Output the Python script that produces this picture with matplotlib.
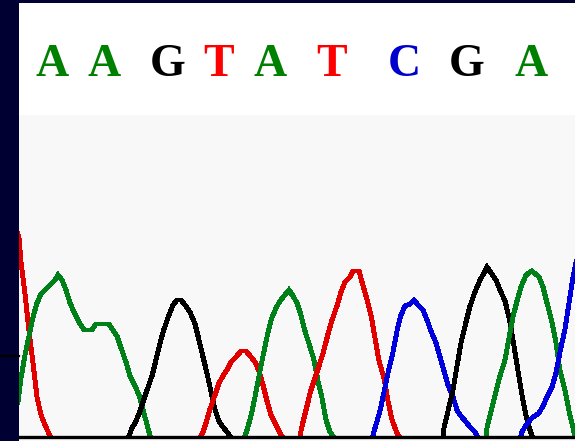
import matplotlib

matplotlib.use("Agg")

import matplotlib.pyplot as plt  # noqa: E402

# ── base calls ────────────────────────────────────────────────────────────────

bases = ["A", "A", "G", "T", "A", "T", "C", "G", "A"]
base_pos = [52, 104, 168, 219, 270, 332, 404, 467, 531]

BASE_COLORS = {"A": "#008000", "C": "#0000cc", "G": "#000000", "T": "#ff0000"}
TRACE_COLORS = {"A": "#008018", "C": "#0000dd", "G": "#000000", "T": "#e00000"}

# ── trace peaks (scan position, signal) ───────────────────────────────────────

t1_x = [14, 19, 21, 25, 29, 33, 37, 41, 45, 50]
t1_y = [215, 199, 175, 143, 106, 74, 40, 22, 12, 1]

a1_x = [18, 21, 25, 29, 33, 37, 41, 46, 50, 55, 58, 62, 66, 70, 74, 79, 84,
        92, 96, 109, 113, 117, 121, 126, 130, 135, 139, 143, 148, 150]
a1_y = [35, 59, 82, 101, 120, 134, 143, 148, 152, 157, 162, 157, 147, 134,
        125, 115, 107, 107, 113, 113, 107, 101, 89, 75, 61, 51, 42, 27, 9, 1]

g1_x = [129, 132, 135, 139, 143, 147, 152, 156, 160, 164, 169, 173, 177, 181,
        185, 190, 195, 199, 202, 206, 210, 215, 219, 223, 227, 230]
g1_y = [1, 9, 14, 23, 35, 47, 61, 77, 94, 108, 122, 132, 137, 137, 132, 125,
        113, 97, 84, 68, 50, 27, 16, 10, 5, 1]

t2_x = [201, 203, 206, 210, 215, 219, 223, 227, 231, 236, 241, 246, 251, 255,
        259, 263, 267, 271, 276, 280, 282]
t2_y = [1, 5, 14, 28, 42, 54, 61, 67, 75, 80, 86, 86, 80, 75, 66, 52, 36, 22,
        12, 4, 1]

a2_x = [245, 247, 251, 255, 259, 263, 267, 271, 276, 280, 284, 289, 293, 297,
        301, 305, 310, 314, 318, 322, 326, 330, 333]
a2_y = [1, 7, 21, 40, 61, 81, 100, 117, 129, 136, 141, 147, 141, 134, 122,
        106, 90, 77, 56, 39, 17, 5, 1]

t3_x = [300, 302, 307, 311, 315, 319, 324, 328, 332, 337, 341, 345, 350, 353,
        359, 362, 366, 371, 375, 379, 384, 388, 392, 397, 399]
t3_y = [1, 11, 31, 47, 59, 71, 87, 103, 117, 131, 145, 155, 160, 166, 166,
        155, 141, 122, 99, 76, 59, 36, 17, 4, 1]

c1_x = [373, 375, 380, 384, 388, 393, 397, 401, 405, 410, 414, 418, 423, 427,
        431, 436, 440, 444, 448, 453, 457, 461, 466, 470, 475, 477]
c1_y = [1, 9, 26, 45, 64, 85, 106, 122, 131, 133, 137, 132, 127, 117, 106,
        94, 80, 66, 52, 40, 27, 21, 15, 10, 5, 1]

g2_x = [443, 444, 448, 453, 457, 461, 466, 470, 475, 480, 484, 487, 491, 496,
        500, 505, 509, 514, 518, 522, 526, 530, 532]
g2_y = [1, 9, 26, 47, 71, 94, 115, 131, 145, 157, 164, 170, 164, 157, 147,
        136, 120, 91, 66, 42, 21, 7, 1]

a3_x = [486, 487, 491, 496, 500, 505, 509, 513, 517, 521, 526, 532, 539, 543,
        547, 552, 556, 560, 565, 569, 573, 575]
a3_y = [1, 9, 26, 45, 61, 77, 99, 120, 136, 150, 162, 166, 160, 150, 134,
        115, 94, 66, 47, 26, 9, 1]

c2_x = [521, 522, 526, 532, 539, 543, 547, 552, 556, 560, 565, 569, 573, 577]
c2_y = [1, 5, 12, 19, 24, 31, 40, 50, 64, 85, 108, 134, 160, 180]

traces = [
    ("T", t1_x, t1_y), ("A", a1_x, a1_y), ("G", g1_x, g1_y),
    ("T", t2_x, t2_y), ("A", a2_x, a2_y), ("T", t3_x, t3_y),
    ("C", c1_x, c1_y), ("G", g2_x, g2_y), ("A", a3_x, a3_y),
    ("C", c2_x, c2_y),
]

# ── figure ────────────────────────────────────────────────────────────────────

W, H = 575, 441
fig = plt.figure(figsize=(W / 100, H / 100), dpi=100, facecolor="#000033")

# base-call strip
ax_top = fig.add_axes([19 / W, (H - 115) / H, (W - 19) / W, 112 / H])
ax_top.set_xlim(19, W)
ax_top.set_ylim(0, 112)
ax_top.axis("off")
ax_top.add_patch(plt.Rectangle((19, 0), W - 19, 112, color="white", zorder=0))
for b, x in zip(bases, base_pos):
    ax_top.text(x, 112 - 62, b, ha="center", va="center", fontsize=33,
                fontweight="bold", family="Liberation Serif",
                color=BASE_COLORS[b])

# chromatogram
ax = fig.add_axes([19 / W, 0, (W - 19) / W, 326 / H])
ax.set_facecolor("#f8f8f8")
ax.set_xlim(19, W)
ax.set_ylim(-4, 322)
for side in ax.spines.values():
    side.set_visible(False)
ax.set_xticks([])
ax.set_yticks([])

for b, xs, ys in traces:
    ax.plot(xs, ys, color=TRACE_COLORS[b], lw=2.8, antialiased=False,
            solid_joinstyle="miter", zorder=2)

ax.axhline(0, color="black", lw=2.4, zorder=3)

# small marker on the left rail
fig.add_artist(plt.Line2D([0, 19 / W], [1 - 356 / H, 1 - 356 / H],
                          color="black", lw=1.6, transform=fig.transFigure))

fig.savefig("out.png", dpi=100, facecolor=fig.get_facecolor())
